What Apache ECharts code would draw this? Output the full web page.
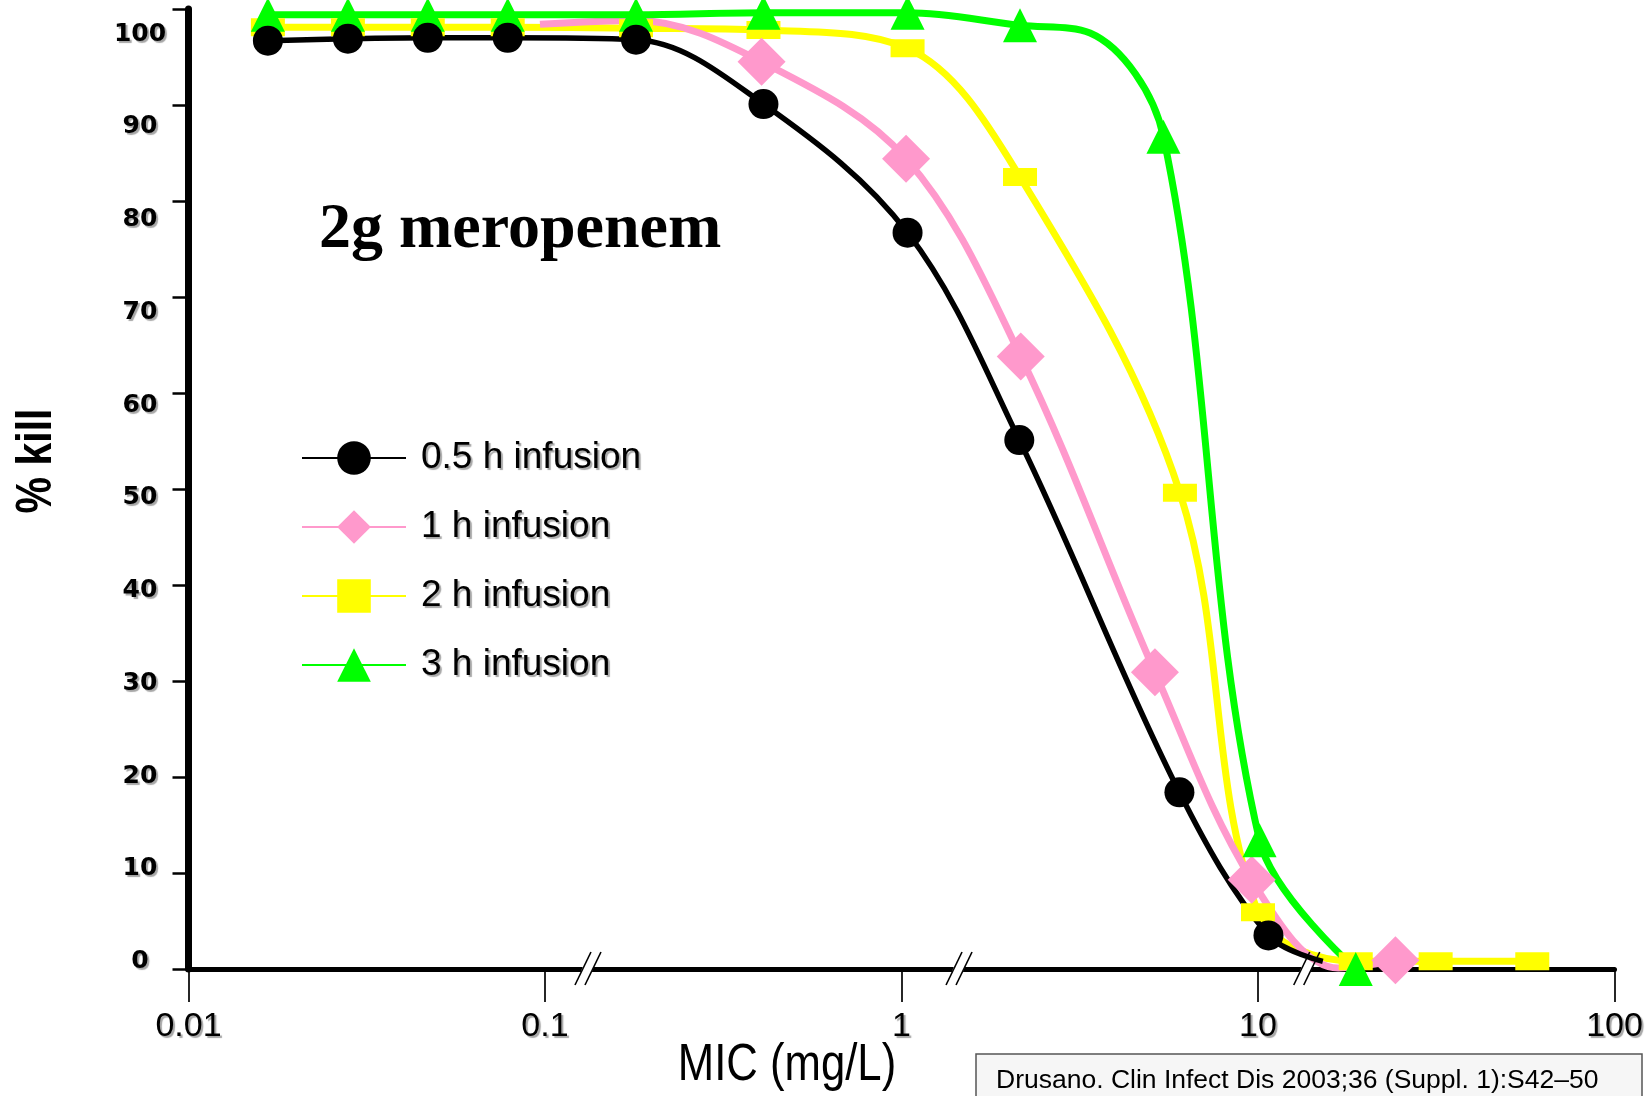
<!DOCTYPE html>
<html><head><meta charset="utf-8">
<script src="https://cdn.jsdelivr.net/npm/echarts@6/dist/echarts.min.js"></script>
<style>html,body{margin:0;padding:0;background:#fff}#c{width:1651px;height:1096px}</style>
</head><body><div id="c"></div>
<script>
// ---------- data ----------
const seriesNames = ['0.5 h infusion', '1 h infusion', '2 h infusion', '3 h infusion'];
const xTickLabels = ['0.01', '0.1', '1', '10', '100'];

const mic05h  = [0.0167, 0.0280, 0.0469, 0.0786, 0.180, 0.410, 1.04, 2.14, 6.02, 10.7, 15.2];
const kill05h = [96.7, 96.9, 97.0, 97.0, 96.8, 90.1, 76.7, 55.1, 18.4, 3.5, 0.8];

const mic1h  = [0.0968, 0.180, 0.405, 1.03, 2.16, 5.14, 9.60, 16.8, 24.3];
const kill1h = [98.4, 98.8, 94.5, 84.4, 63.8, 30.9, 9.3, 0.1, 0.9];

const mic2h  = [0.0167, 0.0280, 0.0469, 0.0786, 0.180, 0.410, 1.04, 2.15, 6.04, 10.0, 18.8, 31.5, 58.8];
const kill2h = [98.1, 98.1, 98.1, 98.1, 98.0, 97.8, 95.9, 82.5, 49.6, 5.9, 0.8, 0.8, 0.8];

const mic3h  = [0.0167, 0.0280, 0.0469, 0.0786, 0.180, 0.410, 1.04, 2.15, 3.38, 5.43, 10.1, 18.8];
const kill3h = [99.4, 99.4, 99.4, 99.4, 99.4, 99.6, 99.6, 98.3, 97.5, 86.7, 13.4, 0.0];

// points that only shape the curve (no marker drawn in the reference)
const noMarker05h = [10];
const noMarker1h  = [0, 1, 7];
const noMarker3h  = [8];

// axis-break marks (x positions on the MIC axis)
const axisBreaks = [0.132, 1.45, 13.7];

// ---------- helpers ----------
function pairs(xs, ys, hidden) {
  return xs.map((x, i) => (hidden && hidden.indexOf(i) >= 0)
    ? { value: [x, ys[i]], symbol: 'none' } : [x, ys[i]]);
}
const SANS = "'Liberation Sans', Arial, sans-serif";
const SHADOW = { textShadowColor: 'rgba(0,0,0,0.35)', textShadowOffsetX: 2, textShadowOffsetY: 2, textShadowBlur: 1 };
const GSHADOW = { shadowColor: 'rgba(0,0,0,0.35)', shadowOffsetX: 2, shadowOffsetY: 2, shadowBlur: 1 };

const chart = echarts.init(document.getElementById('c'), null, { renderer: 'canvas' });

function lineSeries(name, data, color, width, symbol, size) {
  return {
    name, type: 'line', data, xAxisIndex: 0, yAxisIndex: 0,
    smooth: 0.35, clip: false,
    symbol, symbolSize: size, showSymbol: true,
    lineStyle: { color, width }, itemStyle: { color, borderWidth: 0 },
    emphasis: { disabled: true }
  };
}

const option = {
  animation: false,
  backgroundColor: '#ffffff',
  grid: [
    { left: 188.5, right: 36.5, top: 9, bottom: 127 },
    { left: 188.5, right: 36.5, top: 34, bottom: 134.3 }
  ],
  xAxis: [
    {
      gridIndex: 0, type: 'log', logBase: 10, min: 0.01, max: 100,
      axisLine: { show: true, lineStyle: { color: '#000', width: 5 } },
      axisTick: { show: true, length: 33, lineStyle: { color: '#000', width: 1.7 } },
      splitLine: { show: false }, minorTick: { show: false },
      axisLabel: {
        show: true, margin: 41, color: '#000', fontSize: 34, fontFamily: SANS,
        formatter: v => xTickLabels[Math.round(Math.log10(v) + 2)] || '',
        ...SHADOW
      }
    },
    { gridIndex: 1, type: 'value', show: false, min: 0, max: 1 }
  ],
  yAxis: [
    {
      gridIndex: 0, type: 'value', min: 0, max: 100, interval: 10,
      axisLine: { show: true, onZero: false, lineStyle: { color: '#000', width: 7 } },
      axisTick: { show: true, length: 16, lineStyle: { color: '#000', width: 2.5 } },
      axisLabel: { show: false }, splitLine: { show: false }
    },
    {
      gridIndex: 1, type: 'value', min: 0, max: 100, interval: 10,
      axisLine: { show: false }, axisTick: { show: false }, splitLine: { show: false },
      axisLabel: {
        show: true, margin: 48.5, align: 'center', color: '#000',
        fontSize: 25, fontWeight: 'bold', fontFamily: "'DejaVu Sans', sans-serif", ...SHADOW
      }
    }
  ],
  legend: {
    data: seriesNames, orient: 'vertical', left: 296, top: 432,
    itemWidth: 104, itemHeight: 42, itemGap: 27,
    lineStyle: { width: 2 },
    selectedMode: false,
    textStyle: {
      color: '#000', fontSize: 37, fontFamily: SANS,
      lineHeight: 42, padding: [0, 0, 0, 10], ...SHADOW
    }
  },
  series: [
    lineSeries(seriesNames[2], pairs(mic2h, kill2h), '#ffff00', 7, 'rect', [34, 18]),
    lineSeries(seriesNames[1], pairs(mic1h, kill1h, noMarker1h), '#ff99cc', 7, 'diamond', [48, 48]),
    lineSeries(seriesNames[3], pairs(mic3h, kill3h, noMarker3h), '#00ff00', 7, 'triangle', [34, 34]),
    lineSeries(seriesNames[0], pairs(mic05h, kill05h, noMarker05h), '#000000', 5.5, 'circle', 30)
  ]
};
chart.setOption(option);

// graphics (texts, citation box, axis-break marks placed through the axis scale)
function buildGraphics() {
  const els = [];
  els.push({
    type: 'text', z: 10, x: 319, y: 230,
    style: { text: '2g meropenem', font: "bold 64px 'Liberation Serif', 'Times New Roman', serif",
      fill: '#000', align: 'left', verticalAlign: 'middle' }
  });
  els.push({
    type: 'text', z: 10, x: 37, y: 461, rotation: Math.PI / 2, scaleX: 0.82,
    style: Object.assign({ text: '% kill', font: "bold 50px " + SANS, fill: '#000', align: 'center', verticalAlign: 'middle' }, GSHADOW)
  });
  els.push({
    type: 'text', z: 10, x: 787, y: 1066, scaleX: 0.84,
    style: Object.assign({ text: 'MIC (mg/L)', font: "52px " + SANS, fill: '#000', align: 'center', verticalAlign: 'middle' }, GSHADOW)
  });
  els.push({
    type: 'rect', z: 10, shape: { x: 976, y: 1054, width: 666, height: 60 },
    style: { fill: '#f6f6f6', stroke: '#555', lineWidth: 1.5 }
  });
  els.push({
    type: 'text', z: 11, x: 996, y: 1081,
    style: { text: 'Drusano. Clin Infect Dis 2003;36 (Suppl. 1):S42\u201350',
      font: "26.5px " + SANS, fill: '#000', align: 'left', verticalAlign: 'middle' }
  });
  axisBreaks.forEach((bx) => {
    const p = chart.convertToPixel({ gridIndex: 0 }, [bx, 0]);
    const cx = p[0], cy = p[1];
    els.push({
      type: 'polygon', z: 5,
      shape: { points: [[cx - 8, cy + 5], [cx + 3, cy + 5], [cx + 7, cy - 5], [cx - 4, cy - 5]] },
      style: { fill: '#fff' }
    });
    els.push({ type: 'line', z: 6, shape: { x1: cx - 13, y1: cy + 16, x2: cx + 3, y2: cy - 17 },
      style: { stroke: '#000', lineWidth: 1.6 } });
    els.push({ type: 'line', z: 6, shape: { x1: cx - 3, y1: cy + 16, x2: cx + 13, y2: cy - 17 },
      style: { stroke: '#000', lineWidth: 1.6 } });
  });
  return els;
}
chart.setOption({ graphic: { elements: buildGraphics() } });
</script>
</body></html>
